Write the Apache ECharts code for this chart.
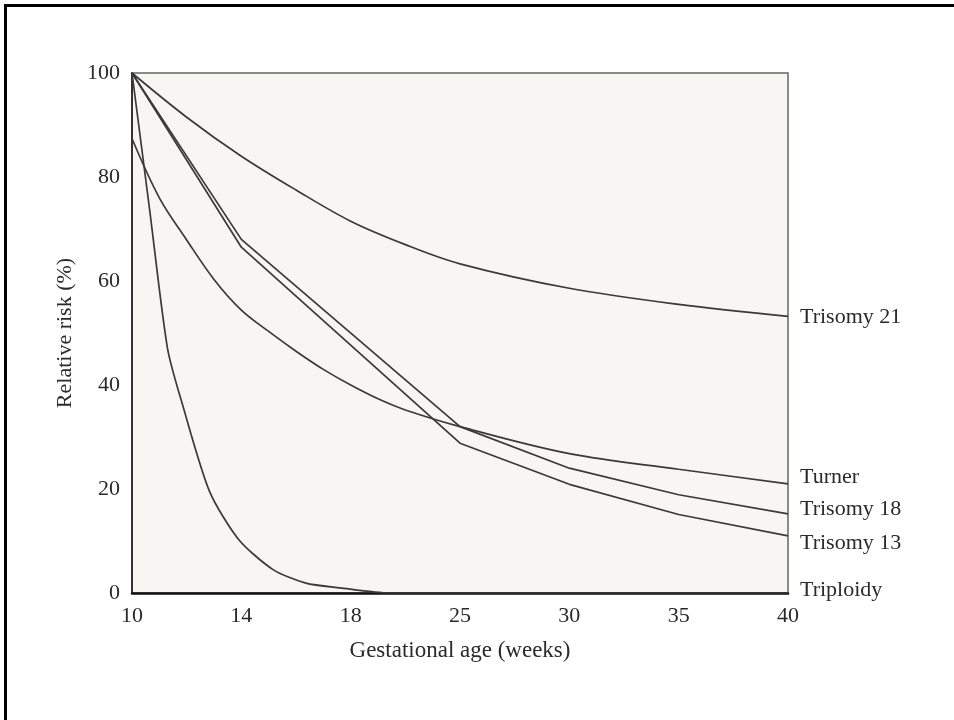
<!DOCTYPE html>
<html>
<head>
<meta charset="utf-8">
<script src="https://cdn.jsdelivr.net/npm/echarts@6/dist/echarts.min.js"></script>
<style>
  html, body { margin: 0; padding: 0; background: #ffffff; }
  #wrap { position: relative; width: 954px; height: 720px; }
  #chart { position: absolute; left: 0; top: 0; width: 954px; height: 720px; }
  #frame { position: absolute; left: 4px; top: 4px; right: 0; bottom: 0;
           border-top: 3px solid #000; border-left: 3px solid #000; pointer-events: none; }
</style>
</head>
<body>
<div id="wrap"><div id="chart"></div><div id="frame"></div></div>
<script>
// ---- data (weeks of gestation -> relative risk %) ----
const tickWeeks = [10, 14, 18, 25, 30, 35, 40];
const seriesNames = ['Trisomy 21', 'Turner', 'Trisomy 18', 'Trisomy 13', 'Triploidy'];

const trisomy21Weeks = [10, 12, 14, 16, 18, 21.5, 25, 30, 35, 40];
const trisomy21Risk  = [100, 91.5, 84, 77.5, 71.5, 67, 63.3, 58.6, 55.5, 53.2];

const turnerWeeks = [10, 11, 12, 13, 14, 15, 16, 17, 18, 20, 21.5, 25, 30, 35, 40];
const turnerRisk  = [87.4, 76, 67.9, 60.3, 54.4, 50.3, 46.5, 43.0, 40.0, 37.0, 35.2, 32.0, 26.8, 23.8, 21];

const trisomy18Weeks = [10, 14, 25, 30, 35, 40];
const trisomy18Risk  = [100, 68, 32, 24, 18.9, 15.2];

const trisomy13Weeks = [10, 14, 25, 30, 35, 40];
const trisomy13Risk  = [100, 66.5, 28.8, 20.9, 15.1, 11];

const triploidyWeeks = [10, 10.65, 11.3, 11.86, 12.84, 13.9, 15.16, 16.36, 17.6, 20.5, 40];
const triploidyRisk  = [100, 73.5, 47, 36, 19.5, 10.3, 4.5, 1.9, 1.0, 0, 0];

// x axis is drawn with evenly spaced ticks (10,14,18,25,30,35,40):
// convert weeks to the axis' tick-index scale
function weekToPos(w) {
  for (let i = 0; i < tickWeeks.length - 1; i++) {
    if (w <= tickWeeks[i + 1]) {
      return i + (w - tickWeeks[i]) / (tickWeeks[i + 1] - tickWeeks[i]);
    }
  }
  return tickWeeks.length - 1;
}
function pairs(weeks, vals) { return weeks.map((w, i) => [weekToPos(w), vals[i]]); }

const FONT = '"Liberation Serif", "Times New Roman", serif';
const LINE = '#3a3a3a';

const labelOffsets = [[0, 1], [0, -7], [0, -5], [0, 7], [0, -3]];
const seriesData = [
  { d: pairs(trisomy21Weeks, trisomy21Risk), smooth: 0.35 },
  { d: pairs(turnerWeeks, turnerRisk), smooth: 0.35 },
  { d: pairs(trisomy18Weeks, trisomy18Risk), smooth: false },
  { d: pairs(trisomy13Weeks, trisomy13Risk), smooth: false },
  { d: pairs(triploidyWeeks, triploidyRisk), smooth: 0.25 }
];

const chart = echarts.init(document.getElementById('chart'), null, { renderer: 'canvas' });
chart.setOption({
  animation: false,
  backgroundColor: '#ffffff',
  grid: {
    left: 132, top: 73, right: 166, bottom: 127,
    show: true, backgroundColor: '#f8f6f2', borderColor: '#666', borderWidth: 1.5,
    outerBoundsMode: 'none'
  },
  xAxis: {
    type: 'value', min: 0, max: tickWeeks.length - 1, interval: 1,
    name: 'Gestational age (weeks)', nameLocation: 'middle', nameGap: 46,
    nameTextStyle: { fontFamily: FONT, fontSize: 23, color: '#2a2a2a' },
    axisLine: { show: true, lineStyle: { color: '#111', width: 2.5 } },
    axisTick: { show: false },
    splitLine: { show: false },
    axisLabel: { fontFamily: FONT, fontSize: 22, color: '#2a2a2a', margin: 12,
                 formatter: v => String(tickWeeks[Math.round(v)]) }
  },
  yAxis: {
    type: 'value', min: 0, max: 100, interval: 20,
    name: 'Relative risk (%)', nameLocation: 'middle', nameGap: 56,
    nameTextStyle: { fontFamily: FONT, fontSize: 22, color: '#2a2a2a' },
    axisLine: { show: true, lineStyle: { color: '#333', width: 2 } },
    axisTick: { show: false },
    splitLine: { show: false },
    axisLabel: { fontFamily: FONT, fontSize: 22, color: '#2a2a2a', margin: 12 }
  },
  series: seriesNames.map((name, i) => ({
    name: name,
    type: 'line',
    data: seriesData[i].d,
    smooth: seriesData[i].smooth,
    showSymbol: false,
    symbol: 'none',
    lineStyle: { color: LINE, width: 1.7 },
    endLabel: {
      show: true, formatter: name, distance: 12, offset: labelOffsets[i],
      fontFamily: FONT, fontSize: 22, color: '#2a2a2a'
    },
    z: 3
  }))
});
</script>
</body>
</html>
